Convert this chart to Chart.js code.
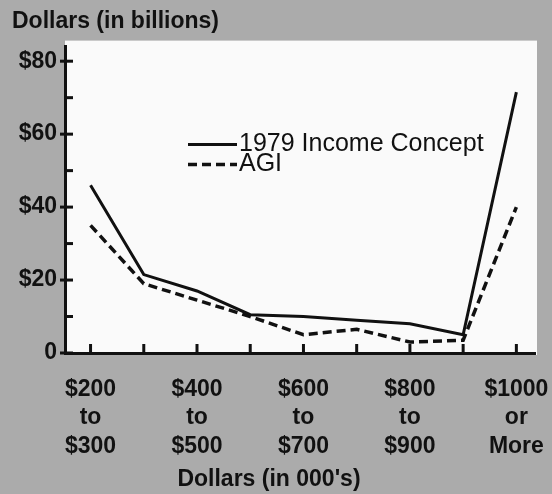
<!DOCTYPE html>
<html>
<head>
<meta charset="utf-8">
<title>Income distribution</title>
<script src="https://cdn.jsdelivr.net/npm/chart.js@4/dist/chart.umd.min.js"></script>
<style>
  html, body { margin: 0; padding: 0; background: #ababab; }
  #wrap { width: 552px; height: 494px; }
</style>
</head>
<body>
<div id="wrap"><canvas id="chart" width="552" height="494"></canvas></div>
<script>
'use strict';

// income classes (lower bound, $000's)
const incomeClasses = ['$200', '$300', '$400', '$500', '$600', '$700', '$800', '$900', '$1000'];
const tickLabels = [
  ['$200', 'to', '$300'], '', ['$400', 'to', '$500'], '', ['$600', 'to', '$700'], '',
  ['$800', 'to', '$900'], '', ['$1000', 'or', 'More'],
];
// dollars in billions
const concept1979 = [46, 21.5, 17, 10.5, 10, 9, 8, 5, 71.5];
const agi         = [35, 19, 14.5, 10, 5, 6.5, 3, 3.5, 40];
const yTicks = [0, 10, 20, 30, 40, 50, 60, 70, 80];

const INK = '#111';
const FONT = "'Liberation Sans', Arial, sans-serif";

// white panel behind the plot
const panelBg = {
  id: 'panelBg',
  beforeDraw(chart) {
    const { ctx, chartArea: a } = chart;
    ctx.save();
    ctx.fillStyle = '#fafafa';
    ctx.fillRect(a.left, a.top - 6, a.right - a.left + 2, a.bottom - a.top + 8);
    ctx.restore();
  },
};

// inward tick marks, taken from the scales
const innerTicks = {
  id: 'innerTicks',
  afterDraw(chart) {
    const { ctx, chartArea: a, scales } = chart;
    ctx.save();
    ctx.strokeStyle = INK;
    ctx.lineWidth = 3;
    scales.y.ticks.forEach(t => {
      const py = scales.y.getPixelForValue(t.value);
      const major = t.value % 20 === 0;
      ctx.beginPath();
      ctx.moveTo(a.left - (major ? 5 : 0), py);
      ctx.lineTo(a.left + 8, py);
      ctx.stroke();
    });
    scales.x.ticks.forEach(t => {
      const px = scales.x.getPixelForValue(t.value);
      ctx.beginPath();
      ctx.moveTo(px, a.bottom);
      ctx.lineTo(px, a.bottom - 9);
      ctx.stroke();
    });
    ctx.restore();
  },
};

// legend drawn inside the plot
const innerLegend = {
  id: 'innerLegend',
  afterDraw(chart) {
    const { ctx, chartArea: a } = chart;
    const x0 = a.left + 123, x1 = a.left + 172;
    ctx.save();
    ctx.font = `25px ${FONT}`;
    ctx.textBaseline = 'middle';
    ctx.fillStyle = INK;
    chart.data.datasets.forEach((ds, i) => {
      const y = a.top + 98 + i * 20;
      ctx.strokeStyle = ds.borderColor;
      ctx.lineWidth = ds.borderWidth;
      ctx.setLineDash(ds.borderDash || []);
      ctx.beginPath();
      ctx.moveTo(x0, y);
      ctx.lineTo(x1, y);
      ctx.stroke();
      ctx.fillText(ds.label, x1 + 2, y);
    });
    ctx.restore();
  },
};

// x axis title sits left of centre in the original
const xTitle = {
  id: 'xTitle',
  afterDraw(chart) {
    const { ctx, chartArea: a } = chart;
    ctx.save();
    ctx.font = `bold 23px ${FONT}`;
    ctx.fillStyle = INK;
    ctx.textAlign = 'center';
    ctx.textBaseline = 'middle';
    ctx.fillText("Dollars (in 000's)", a.left + 204, a.bottom + 127);
    ctx.restore();
  },
};

const ctx = document.getElementById('chart').getContext('2d');
new Chart(ctx, {
  type: 'line',
  data: {
    datasets: [
      {
        label: '1979 Income Concept',
        data: concept1979.map((v, i) => ({ x: i, y: v })),
        borderColor: INK,
        borderWidth: 3,
        pointRadius: 0,
        tension: 0,
      },
      {
        label: 'AGI',
        data: agi.map((v, i) => ({ x: i, y: v })),
        borderColor: INK,
        borderWidth: 3.5,
        borderDash: [9, 5],
        pointRadius: 0,
        tension: 0,
      },
    ],
  },
  options: {
    responsive: false,
    animation: false,
    layout: { padding: { left: 12, right: 17, top: 0, bottom: 0 } },
    plugins: {
      legend: { display: false },
      tooltip: { enabled: false },
      title: {
        display: true,
        text: 'Dollars (in billions)',
        align: 'start',
        color: INK,
        font: { family: FONT, size: 23, weight: 'bold' },
        padding: { top: 8, bottom: 11 },
      },
    },
    scales: {
      x: {
        type: 'linear',
        min: -0.48,
        max: 8.35,
        afterBuildTicks: s => { s.ticks = incomeClasses.map((_, i) => ({ value: i })); },
        afterFit: s => { s.height = 141; s.paddingLeft = 0; s.paddingRight = 0; },
        grid: { display: false, drawTicks: false },
        border: { display: true, color: INK, width: 3 },
        ticks: {
          color: INK,
          padding: 22,
          maxRotation: 0,
          autoSkip: false,
          font: { family: FONT, size: 23, weight: 'bold', lineHeight: 1.24 },
          callback: (v, i) => tickLabels[i],
        },
      },
      y: {
        min: 0,
        max: 84,
        afterBuildTicks: s => { s.ticks = yTicks.map(v => ({ value: v })); },
        afterFit: s => { s.width = 53; },
        grid: { display: false, drawTicks: false },
        border: { display: true, color: INK, width: 3 },
        ticks: {
          color: INK,
          padding: 8,
          font: { family: FONT, size: 23, weight: 'bold' },
          callback: v => (v % 20 !== 0 ? '' : v === 0 ? '0' : '$' + v),
        },
      },
    },
  },
  plugins: [panelBg, innerTicks, innerLegend, xTitle],
});
</script>
</body>
</html>
